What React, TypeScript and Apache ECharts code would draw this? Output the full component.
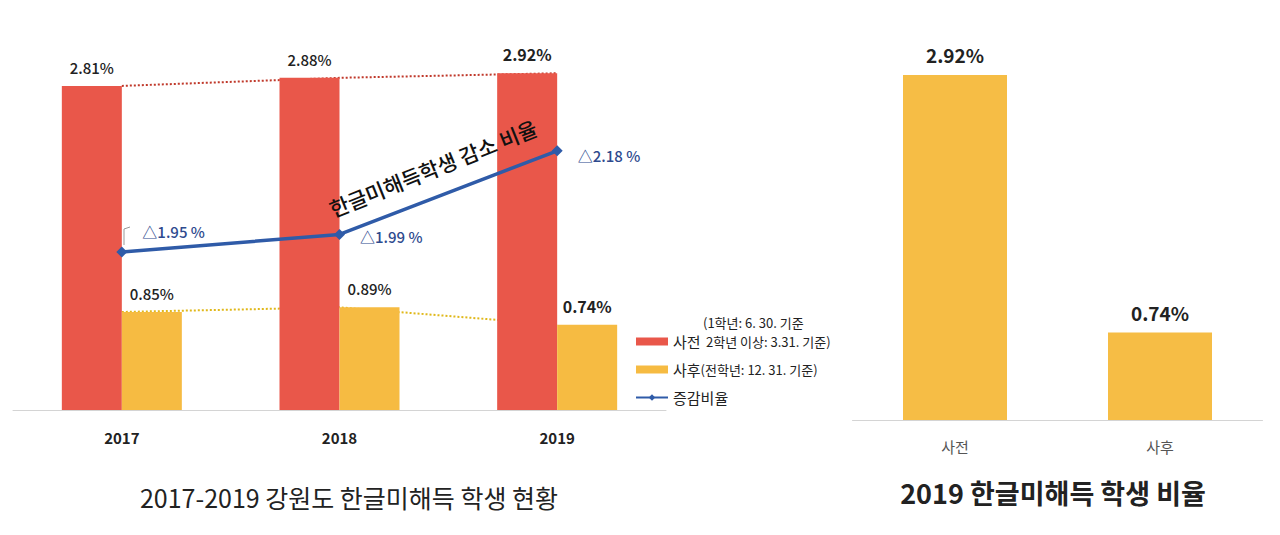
import React, { useEffect, useRef } from "react";
import * as echarts from "echarts";

// ---- data ----
const years = ["2017", "2018", "2019"];
const beforeRates = [2.81, 2.88, 2.92]; // 사전
const afterRates = [0.85, 0.89, 0.74]; // 사후
const changeRates = [1.95, 1.99, 2.18]; // 증감비율
const rightCategories = ["사전", "사후"];
const rightRates = [2.92, 0.74];

const FONT = "'Noto Sans CJK KR', 'Noto Sans', sans-serif";
const RED = "#e9574a";
const YELLOW = "#f6bb42";
const BLUE = "#2f5ba8";

export default function App() {
  const ref = useRef<HTMLDivElement>(null);

  useEffect(() => {
    if (!ref.current) return;
    const chart = echarts.init(ref.current, null, { renderer: "svg" });

    const emphasizeLast = (arr: number[], size: number) =>
      arr.map((v, i) =>
        i === arr.length - 1
          ? { value: v, label: { fontWeight: "bold", fontSize: size } }
          : v
      );

    const lineLabelOffsets = [
      [0, -21],
      [0, 2],
      [0, 5],
    ];

    const option: any = {
      animation: false,
      backgroundColor: "#ffffff",
      textStyle: { fontFamily: FONT },
      grid: [
        { left: 13, width: 653, top: 64, height: 346 },
        { left: 852.5, width: 410, top: 65.5, height: 354.5 },
      ],
      xAxis: [
        {
          type: "category",
          gridIndex: 0,
          data: years,
          axisTick: { show: false },
          axisLine: { lineStyle: { color: "#d4d4d4", width: 1 } },
          axisLabel: {
            color: "#222",
            fontWeight: "bold",
            fontSize: 15,
            margin: 20,
            fontFamily: FONT,
          },
        },
        {
          type: "category",
          gridIndex: 1,
          data: rightCategories,
          axisTick: { show: false },
          axisLine: { lineStyle: { color: "#d4d4d4", width: 1 } },
          axisLabel: { color: "#555", fontSize: 15, margin: 19, fontFamily: FONT },
        },
      ],
      yAxis: [
        { type: "value", gridIndex: 0, min: 0, max: 3, show: false },
        { type: "value", gridIndex: 0, min: 1.5909, max: 2.3773, show: false },
        { type: "value", gridIndex: 1, min: 0, max: 3, show: false },
      ],
      legend: {
        data: [
          { name: "사전", icon: "rect" },
          { name: "사후", icon: "rect" },
          { name: "증감비율" },
        ],
        orient: "vertical",
        left: 630,
        top: 329,
        itemWidth: 32,
        itemHeight: 8,
        itemGap: 13,
        selectedMode: false,
        textStyle: {
          color: "#222",
          fontFamily: FONT,
          rich: {
            a: { fontSize: 15, color: "#222", fontFamily: FONT },
            b: { fontSize: 13, color: "#222", fontFamily: FONT },
          },
        },
        formatter: (name: string) => {
          if (name === "사전") return "{a|사전}  {b|2학년 이상: 3.31. 기준)}";
          if (name === "사후") return "{a|사후}{b|(전학년: 12. 31. 기준)}";
          return "{a|" + name + "}";
        },
      },
      series: [
        {
          name: "사전추세",
          type: "line",
          xAxisIndex: 0,
          yAxisIndex: 0,
          data: beforeRates,
          symbol: "none",
          silent: true,
          z: 1,
          lineStyle: { type: "dotted", color: "#c0392b", width: 2 },
        },
        {
          name: "사후추세",
          type: "line",
          xAxisIndex: 0,
          yAxisIndex: 0,
          data: afterRates,
          symbol: "none",
          silent: true,
          z: 1,
          lineStyle: { type: "dotted", color: "#e0b81a", width: 2 },
        },
        {
          name: "사전",
          type: "bar",
          xAxisIndex: 0,
          yAxisIndex: 0,
          data: emphasizeLast(beforeRates, 16),
          barWidth: 60,
          barGap: "0%",
          z: 2,
          itemStyle: { color: RED },
          label: {
            show: true,
            position: "top",
            distance: 11,
            color: "#222",
            fontSize: 15,
            fontWeight: 500,
            fontFamily: FONT,
            formatter: (p: any) => p.value.toFixed(2) + "%",
          },
        },
        {
          name: "사후",
          type: "bar",
          xAxisIndex: 0,
          yAxisIndex: 0,
          data: emphasizeLast(afterRates, 16),
          barWidth: 60,
          barGap: "0%",
          z: 2,
          itemStyle: { color: YELLOW },
          label: {
            show: true,
            position: "top",
            distance: 11,
            color: "#222",
            fontSize: 15,
            fontWeight: 500,
            fontFamily: FONT,
            formatter: (p: any) => p.value.toFixed(2) + "%",
          },
        },
        {
          name: "증감비율",
          type: "line",
          xAxisIndex: 0,
          yAxisIndex: 1,
          data: changeRates.map((v, i) => ({
            value: v,
            label: { offset: lineLabelOffsets[i] },
          })),
          z: 5,
          symbol: "diamond",
          symbolSize: 11,
          itemStyle: { color: BLUE },
          lineStyle: { color: BLUE, width: 3.5 },
          label: {
            show: true,
            position: "right",
            distance: 15,
            color: "#2e4a8e",
            fontSize: 15,
            fontWeight: 500,
            fontFamily: FONT,
            formatter: (p: any) => "△" + p.value.toFixed(2) + " %",
          },
        },
        {
          name: "2019",
          type: "bar",
          xAxisIndex: 1,
          yAxisIndex: 2,
          data: rightRates,
          barWidth: 104,
          itemStyle: { color: "#f6bd45" },
          label: {
            show: true,
            position: "top",
            distance: 11,
            color: "#222",
            fontWeight: "bold",
            fontSize: 19,
            fontFamily: FONT,
            formatter: (p: any) => p.value.toFixed(2) + "%",
          },
        },
      ],
      graphic: [
        {
          type: "text",
          x: 703,
          y: 322,
          style: {
            text: "(1학년: 6. 30. 기준",
            fontSize: 13,
            fill: "#222",
            fontFamily: FONT,
            align: "left",
            verticalAlign: "middle",
          },
        },
        {
          type: "polyline",
          shape: {
            points: [
              [124, 245],
              [124, 229],
              [130, 227],
            ],
          },
          style: { stroke: "#999", lineWidth: 1, fill: null },
        },
        {
          type: "text",
          x: 433,
          y: 168,
          rotation: (22 * Math.PI) / 180,
          z: 10,
          style: {
            text: "한글미해득학생 감소 비율",
            fontSize: 21,
            fontWeight: 500,
            fill: "#111",
            fontFamily: FONT,
            align: "center",
            verticalAlign: "middle",
          },
        },
        {
          type: "text",
          x: 349,
          y: 497,
          style: {
            text: "2017-2019 강원도 한글미해득 학생 현황",
            fontSize: 25,
            fill: "#222",
            fontFamily: FONT,
            align: "center",
            verticalAlign: "middle",
          },
        },
        {
          type: "text",
          x: 1053,
          y: 492,
          style: {
            text: "2019 한글미해득 학생 비율",
            fontSize: 27,
            fontWeight: "bold",
            fill: "#222",
            fontFamily: FONT,
            align: "center",
            verticalAlign: "middle",
          },
        },
      ],
    };

    chart.setOption(option);
    return () => chart.dispose();
  }, []);

  return (
    <div
      ref={ref}
      style={{ position: "fixed", left: 0, top: 0, width: 1280, height: 535 }}
    />
  );
}
